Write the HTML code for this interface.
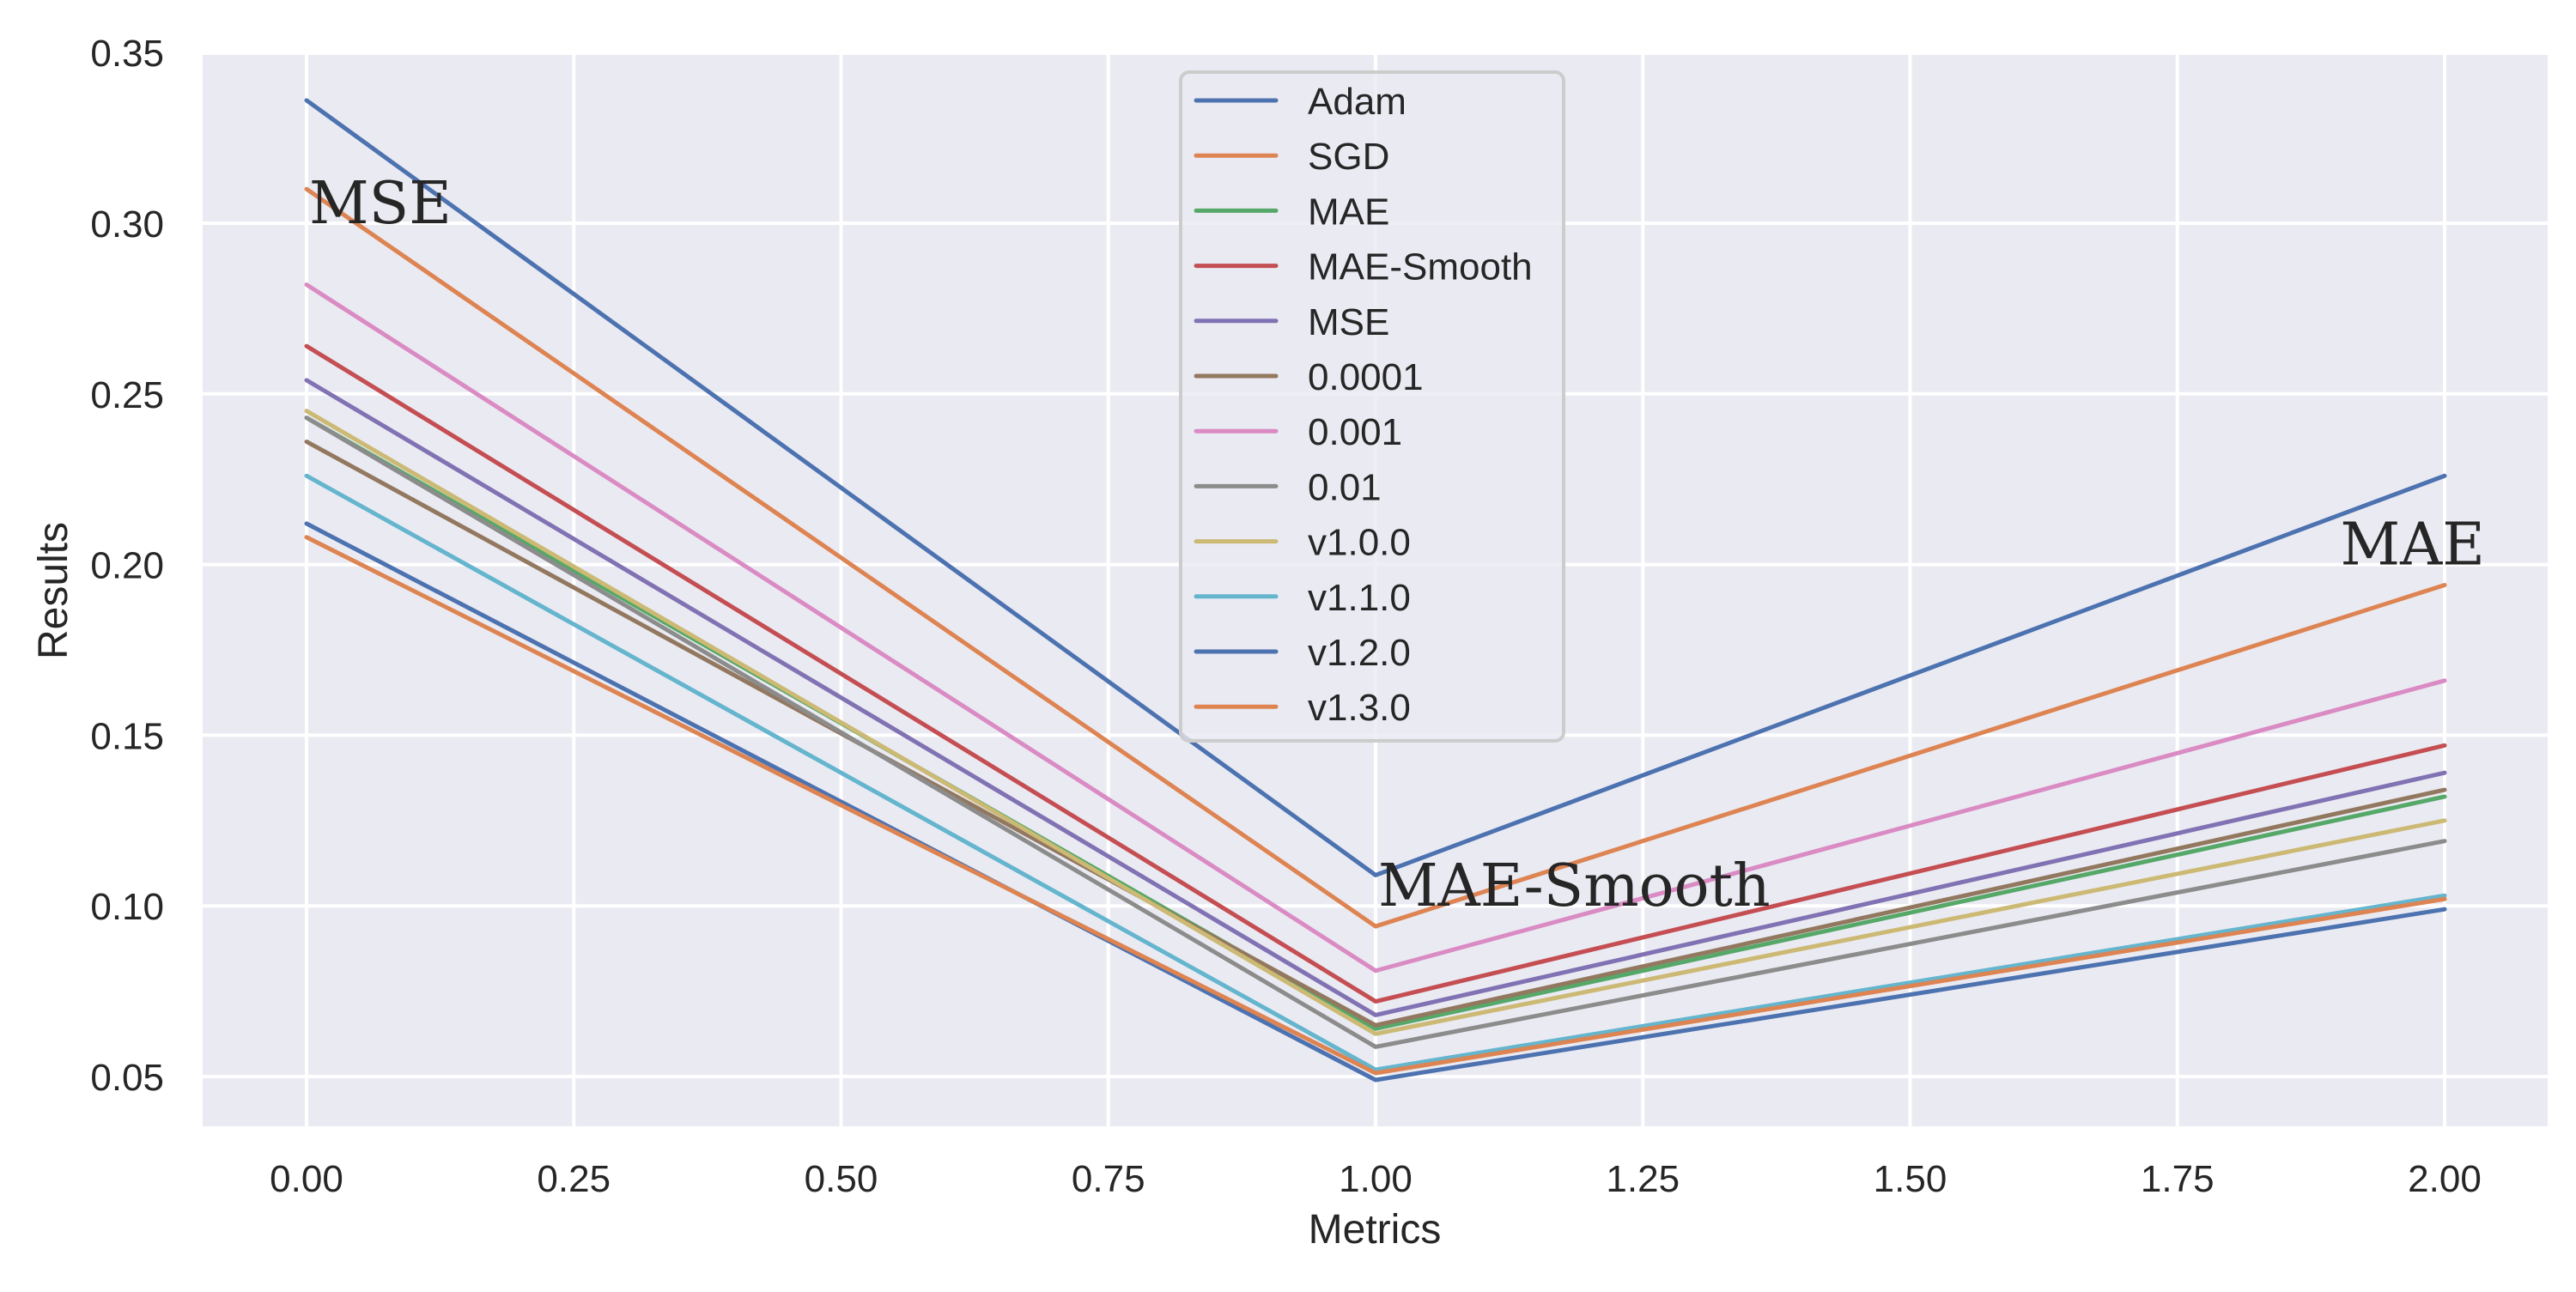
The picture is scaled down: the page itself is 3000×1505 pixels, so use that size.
<!DOCTYPE html>
<html><head><meta charset="utf-8"><style>
html,body{margin:0;padding:0;background:#fff;}
svg text{font-family:"Liberation Sans",sans-serif;fill:#262626;}
</style></head><body>
<svg id="chart" width="3000" height="1500" viewBox="0 0 3000 1500" xmlns="http://www.w3.org/2000/svg">
<rect x="236" y="64" width="2731" height="1248" fill="#eaeaf2"/>
<g id="grid"></g>
<g id="ticks"></g>
<g id="series"></g>
<g id="annots"></g>
<g id="legend"></g>
<text x="1601" y="1448" font-size="48" text-anchor="middle">Metrics</text>
<text transform="translate(78,688) rotate(-90)" font-size="48" text-anchor="middle">Results</text>
</svg>
<script>
const seriesNames = ["Adam","SGD","MAE","MAE-Smooth","MSE","0.0001","0.001","0.01","v1.0.0","v1.1.0","v1.2.0","v1.3.0"];
const xValues = [0,1,2];
const adam = [0.336,0.109,0.226];
const sgd = [0.310,0.094,0.194];
const mae = [0.243,0.064,0.132];
const maeSmooth = [0.264,0.072,0.147];
const mse = [0.254,0.068,0.139];
const lr0001 = [0.236,0.065,0.134];
const lr001 = [0.282,0.081,0.166];
const lr01 = [0.243,0.0587,0.119];
const v100 = [0.245,0.0625,0.125];
const v110 = [0.226,0.052,0.103];
const v120 = [0.212,0.049,0.099];
const v130 = [0.208,0.051,0.102];
const xTicks = [0,0.25,0.5,0.75,1,1.25,1.5,1.75,2];
const xTickLabels = ["0.00","0.25","0.50","0.75","1.00","1.25","1.50","1.75","2.00"];
const yTicks = [0.05,0.10,0.15,0.20,0.25,0.30,0.35];
const yTickLabels = ["0.05","0.10","0.15","0.20","0.25","0.30","0.35"];
const annotLabels = ["MSE","MAE-Smooth","MAE"];
const annotX = [0,1,1.9];
const annotY = [0.30,0.10,0.20];

const allSeries=[adam,sgd,mae,maeSmooth,mse,lr0001,lr001,lr01,v100,v110,v120,v130];
const colors=["#4c72b0","#dd8452","#55a868","#c44e52","#8172b3","#937860","#da8bc3","#8c8c8c","#ccb974","#64b5cd","#4c72b0","#dd8452"];
const NS="http://www.w3.org/2000/svg";
function X(v){return 357+v*1245;}
function Y(v){return 260-(v-0.30)*3976;}
function mk(tag,attrs,parent){const e=document.createElementNS(NS,tag);for(const k in attrs)e.setAttribute(k,attrs[k]);parent.appendChild(e);return e;}
const grid=document.getElementById('grid'),ticks=document.getElementById('ticks');
xTicks.forEach((t,i)=>{
  const l=mk('line',{x1:X(t),x2:X(t),y1:64,y2:1312,stroke:'#fff','stroke-width':4},grid);
  
  
  const tx=mk('text',{x:X(t),y:1388,'font-size':44,'text-anchor':'middle'},ticks);
  tx.textContent=xTickLabels[i];
  
  
});
yTicks.forEach((t,i)=>{
  if(Y(t)>=62){
  const l=mk('line',{x1:236,x2:2967,y1:Y(t),y2:Y(t),stroke:'#fff','stroke-width':4},grid);
  
  }
  const tx=mk('text',{x:191,y:Y(t)+16,'font-size':44,'text-anchor':'end'},ticks);
  tx.textContent=yTickLabels[i];
  
  
});
const sg=document.getElementById('series');
allSeries.forEach((s,i)=>{
  const pts=s.map((v,j)=>X(xValues[j])+','+Y(v)).join(' ');
  const p=mk('polyline',{points:pts,fill:'none',stroke:colors[i],'stroke-width':5,'stroke-linecap':'round','stroke-linejoin':'round'},sg);
  
  
});
const ag=document.getElementById('annots');
annotLabels.forEach((a,i)=>{
  const t=mk('text',{x:X(annotX[i])+3,y:Y(annotY[i]),'font-size':68,style:'font-family:"DejaVu Serif","Liberation Serif",serif'},ag);
  t.textContent=a;
  
  
});
const lg=document.getElementById('legend');
const box=mk('rect',{x:1375,y:84,width:446,height:779,rx:10,fill:'#eaeaf2','fill-opacity':0.8,stroke:'#cccccc','stroke-width':4},lg);


seriesNames.forEach((n,i)=>{
  const y=117+i*64.2;
  const l=mk('line',{x1:1393,x2:1486,y1:y,y2:y,stroke:colors[i],'stroke-width':5,'stroke-linecap':'round'},lg);
  
  
  const t=mk('text',{x:1523,y:y+16,'font-size':44},lg);
  t.textContent=n;
  
  
});
</script>
</body></html>
